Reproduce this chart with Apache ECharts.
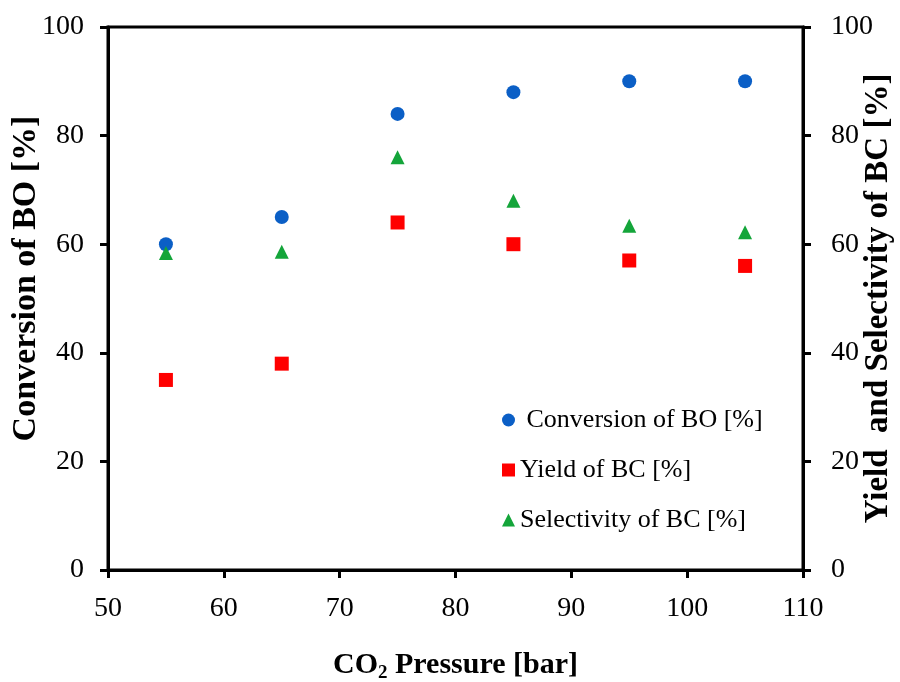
<!DOCTYPE html>
<html>
<head>
<meta charset="utf-8">
<script src="https://cdn.jsdelivr.net/npm/echarts@6/dist/echarts.min.js"></script>
<style>
  html, body { margin: 0; padding: 0; background: #fff; }
  #chart { width: 900px; height: 682px; }
</style>
</head>
<body>
<div id="chart"></div>
<script>
// CO2 pressure [bar]
var pressure = [55, 65, 75, 85, 95, 105];
var conversionBO = [60, 65, 84, 88, 90, 90];
var yieldBC = [35, 38, 64, 60, 57, 56];
var selectivityBC = [58.4, 58.6, 76, 68, 63.4, 62.2];

var serif = 'Liberation Serif';

function pairs(xs, ys) {
    var out = [];
    for (var i = 0; i < xs.length; i++) {
        out.push([xs[i], ys[i]]);
    }
    return out;
}

var chart = echarts.init(document.getElementById('chart'));
var axisLine = { show: true, lineStyle: { color: '#000', width: 3 } };
var axisTick = { show: true, inside: false, length: 8, lineStyle: { color: '#000', width: 3 } };

var option = {
    backgroundColor: '#fff',
    animation: false,
    grid: {
        left: 108, right: 97, top: 27, bottom: 112,
        outerBoundsMode: 'none',
        containLabel: false,
        show: true, borderColor: '#000', borderWidth: 3
    },
    legend: {
        orient: 'vertical',
        left: 497,
        top: 402,
        itemWidth: 13,
        itemHeight: 13,
        itemGap: 24,
        textStyle: { fontFamily: serif, fontSize: 26, color: '#000' },
        formatter: function (name) {
            return name === 'Conversion of BO [%]' ? ' ' + name : name;
        },
        data: ['Conversion of BO [%]', 'Yield of BC [%]', 'Selectivity of BC [%]']
    },
    xAxis: {
        type: 'value',
        min: 50, max: 110, interval: 10,
        axisLine: axisLine,
        axisTick: axisTick,
        splitLine: { show: false },
        axisLabel: { fontFamily: serif, fontSize: 28, color: '#000', margin: 25 },
        name: '{a|CO}{s|2}{a| Pressure [bar]}',
        nameLocation: 'middle',
        nameGap: 78,
        nameMoveOverlap: false,
        nameTextStyle: {
            rich: {
                a: { fontFamily: serif, fontSize: 30, fontWeight: 'bold', color: '#000' },
                s: { fontFamily: serif, fontSize: 19, fontWeight: 'bold', color: '#000', padding: [16, 0, 0, 0] }
            }
        }
    },
    yAxis: [{
        type: 'value',
        min: 0, max: 100, interval: 20,
        position: 'left',
        axisLine: axisLine,
        axisTick: axisTick,
        splitLine: { show: false },
        axisLabel: { fontFamily: serif, fontSize: 28, color: '#000', margin: 24 },
        name: 'Conversion of BO [%]',
        nameLocation: 'middle',
        nameGap: 65,
        nameMoveOverlap: false,
        nameTextStyle: { fontFamily: serif, fontSize: 34, fontWeight: 'bold', color: '#000', padding: [0, 0, 0, 40] }
    }, {
        type: 'value',
        min: 0, max: 100, interval: 20,
        position: 'right',
        axisLine: axisLine,
        axisTick: axisTick,
        splitLine: { show: false },
        axisLabel: { fontFamily: serif, fontSize: 28, color: '#000', margin: 28 },
        name: 'Yield  and Selectivity of BC [%]',
        nameLocation: 'middle',
        nameGap: 59,
        nameRotate: 90,
        nameMoveOverlap: false,
        nameTextStyle: { fontFamily: serif, fontSize: 33, fontWeight: 'bold', color: '#000' }
    }],
    series: [{
        name: 'Conversion of BO [%]',
        type: 'scatter',
        yAxisIndex: 0,
        symbol: 'circle',
        symbolSize: 14,
        itemStyle: { color: '#0b5fc6', opacity: 1 },
        data: pairs(pressure, conversionBO)
    }, {
        name: 'Yield of BC [%]',
        type: 'scatter',
        yAxisIndex: 1,
        symbol: 'rect',
        symbolSize: 14,
        itemStyle: { color: '#ff0000', opacity: 1 },
        data: pairs(pressure, yieldBC)
    }, {
        name: 'Selectivity of BC [%]',
        type: 'scatter',
        yAxisIndex: 1,
        symbol: 'triangle',
        symbolSize: 14,
        itemStyle: { color: '#14a53a', opacity: 1 },
        data: pairs(pressure, selectivityBC)
    }]
};
chart.setOption(option);
</script>
</body>
</html>
